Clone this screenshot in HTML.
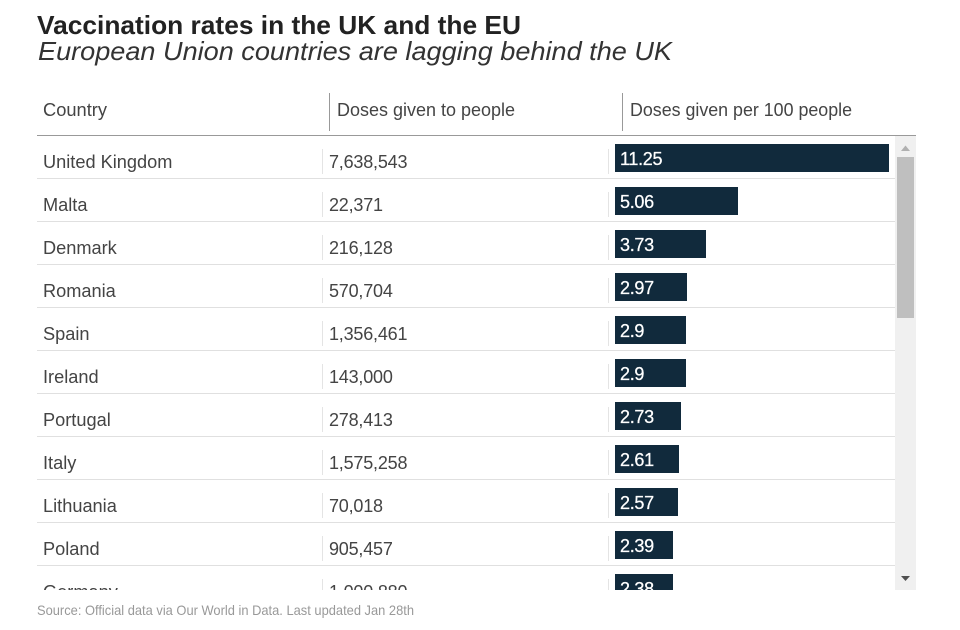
<!DOCTYPE html>
<html>
<head>
<meta charset="utf-8">
<style>
html,body{margin:0;padding:0;background:#fff;}
#chart{display:block;width:960px;height:630px;font-family:"Liberation Sans",sans-serif;}
</style>
</head>
<body>
<svg id="chart" xmlns="http://www.w3.org/2000/svg" width="960" height="630" viewBox="0 0 960 630">
  <defs><clipPath id="rows-clip"><rect x="30" y="136" width="866" height="454"/></clipPath></defs>
  <text x="37" y="34" font-size="26" font-weight="700" fill="#222" textLength="484" lengthAdjust="spacingAndGlyphs">Vaccination rates in the UK and the EU</text>
  <text x="38" y="60" font-size="26" font-style="italic" fill="#333" textLength="634" lengthAdjust="spacingAndGlyphs">European Union countries are lagging behind the UK</text>

  <g font-size="18.5" fill="#444">
    <text x="43" y="116" textLength="64" lengthAdjust="spacingAndGlyphs">Country</text>
    <rect x="329" y="93" width="1" height="38" fill="#999"/>
    <text x="337" y="116" textLength="178" lengthAdjust="spacingAndGlyphs">Doses given to people</text>
    <rect x="622" y="93" width="1" height="38" fill="#999"/>
    <text x="630" y="116" textLength="222" lengthAdjust="spacingAndGlyphs">Doses given per 100 people</text>
    <rect x="37" y="135" width="879" height="1" fill="#999"/>
  </g>

  <g id="rows" clip-path="url(#rows-clip)"></g>

  <g>
    <rect x="895" y="136" width="21" height="454" fill="#f0f0f0"/>
    <rect x="897" y="157" width="17" height="161" fill="#bfbfbf"/>
    <path d="M901 151 L905.500 145.500 L910 151 Z" fill="#b0b0b0"/>
    <path d="M901 576 L910 576 L905.500 581 Z" fill="#505050"/>
  </g>

  <text x="37" y="615" font-size="14" fill="#999" textLength="377" lengthAdjust="spacingAndGlyphs">Source: Official data via Our World in Data. Last updated Jan 28th</text>

<script>
const countries = ["United Kingdom","Malta","Denmark","Romania","Spain","Ireland","Portugal","Italy","Lithuania","Poland","Germany"];
const dosesLabels = ["7,638,543","22,371","216,128","570,704","1,356,461","143,000","278,413","1,575,258","70,018","905,457","1,000,880"];
const per100Values = [11.25,5.06,3.73,2.97,2.9,2.9,2.73,2.61,2.57,2.39,2.38];

const SVGNS = "http://www.w3.org/2000/svg";
const rowsGroup = document.getElementById("rows");
const barLeft = 615, barMaxWidth = 274;
const maxValue = Math.max.apply(null, per100Values);
function xScale(v){ return Math.round(v / maxValue * barMaxWidth); }
function rowTop(i){ return 136 + 43 * i; }

function make(tag, attrs, text){
  const el = document.createElementNS(SVGNS, tag);
  Object.keys(attrs).forEach(function(k){ el.setAttribute(k, attrs[k]); });
  if (text !== undefined) el.textContent = text;
  return el;
}

countries.forEach(function(name, i){
  const top = rowTop(i);
  const row = make("g", {});
  
  

  const country = make("text", {x:43, y:top+32, "font-size":18.2, fill:"#444"}, name);
  
  
  row.appendChild(country);

  const divA = make("rect", {x:322, y:top+13, width:1, height:25, fill:"#e4e4e4"});
  
  
  row.appendChild(divA);

  const doses = make("text", {x:329, y:top+32, "font-size":18, "letter-spacing":-0.2, fill:"#444"}, dosesLabels[i]);
  
  
  row.appendChild(doses);

  const divB = make("rect", {x:608, y:top+13, width:1, height:25, fill:"#e4e4e4"});
  
  
  row.appendChild(divB);

  const bar = make("rect", {x:barLeft, y:top+8, width:xScale(per100Values[i]), height:28, fill:"#112a3c"});
  
  
  row.appendChild(bar);

  const label = make("text", {x:barLeft+5, y:top+29, "font-size":18, "letter-spacing":-0.3, stroke:"#fff", "stroke-width":0.25, fill:"#fff"}, String(per100Values[i]));
  
  
  row.appendChild(label);

  const sep = make("rect", {x:37, y:top+42, width:858, height:1, fill:"#e0e0e0"});
  
  
  row.appendChild(sep);

  rowsGroup.appendChild(row);
});
</script>
</svg>
</body>
</html>
